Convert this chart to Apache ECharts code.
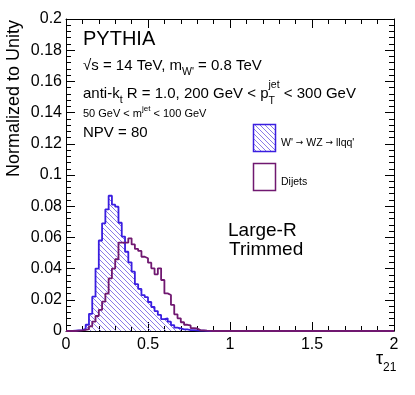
<!DOCTYPE html>
<html>
<head>
<meta charset="utf-8">
</head>
<body style="margin: 0; background: #fff">
<div id="container" style="width: 415px; height: 395px"></div>
<script src="https://cdn.jsdelivr.net/npm/echarts@6/dist/echarts.min.js"></script>
<script>
// histogram bins: width 0.02, first bin starts at 0.04
var binStart = 0.04;
var binWidth = 0.02;
var xTicks = [0, 0.5, 1, 1.5, 2];
var yTicks = [0, 0.02, 0.04, 0.06, 0.08, 0.1, 0.12, 0.14, 0.16, 0.18, 0.2];

// W' -> WZ -> llqq'
var signal = [
    0.0002, 0.0004, 0.0006, 0.0013, 0.0040, 0.0110, 0.0220, 0.0400, 0.0580, 0.0690,
    0.0780, 0.0867, 0.0810, 0.0797, 0.0694, 0.0605, 0.0508, 0.0440, 0.0380, 0.0300,
    0.0270, 0.0230, 0.0217, 0.0186, 0.0154, 0.0128, 0.0103, 0.0076, 0.0081, 0.0060,
    0.0038, 0.0021, 0.0017, 0.0010, 0.0010, 0.0006, 0.0005, 0.0004, 0.0003, 0.0002,
    0.0001, 0, 0
];
// Dijets
var dijets = [
    0, 0.0002, 0.0004, 0.0007, 0.0012, 0.0030, 0.0060, 0.0096, 0.0135, 0.0188,
    0.0240, 0.0337, 0.0400, 0.0460, 0.0566, 0.0566, 0.0566, 0.0594, 0.0555, 0.0526,
    0.0513, 0.0476, 0.0466, 0.0438, 0.0402, 0.0363, 0.0402, 0.0327, 0.0241, 0.0231,
    0.0167, 0.0107, 0.0081, 0.0056, 0.0040, 0.0036, 0.0018, 0.0016, 0.0006, 0.0004,
    0.0002, 0.0001, 0
];

var FONT = '"Liberation Sans", Arial, Helvetica, sans-serif';
var BLUE = '#3a1ee0';
var PURPLE = '#701870';

// hatch pattern for the signal fill
var hatch = document.createElement('canvas');
hatch.width = hatch.height = 5;
var hc = hatch.getContext('2d');
hc.strokeStyle = '#8a7ce8';
hc.lineWidth = 1;
hc.beginPath();
hc.moveTo(-1, -1); hc.lineTo(6, 6);
hc.moveTo(-1, 4); hc.lineTo(1, 6);
hc.moveTo(4, -1); hc.lineTo(6, 1);
hc.stroke();
var hatchFill = { image: hatch, repeat: 'repeat' };

function steps(vals) {
    var pts = [[xTicks[0], 0]];
    vals.forEach(function (v, i) {
        pts.push([binStart + i * binWidth, v]);
    });
    pts.push([binStart + vals.length * binWidth, 0], [xTicks[xTicks.length - 1], 0]);
    return pts;
}

// lay out text pieces (sub/superscripts) one after another
var mctx = document.createElement('canvas').getContext('2d');
function textLine(x, y, parts) {
    var els = [];
    parts.forEach(function (p) {
        var font = p[1] + 'px ' + (p[4] || FONT);
        els.push({
            type: 'text', x: x, y: y + (p[2] || 0),
            style: { text: p[0], font: font, fill: '#000', verticalAlign: 'middle' }
        });
        mctx.font = font;
        if (p[3] !== false) x += mctx.measureText(p[0]).width;
    });
    return els;
}

function axisCommon(extra) {
    var a = {
        type: 'value',
        axisLine: { onZero: false, lineStyle: { color: '#000', width: 1 } },
        axisTick: { inside: true, length: 9, lineStyle: { color: '#000' } },
        minorTick: { show: true, splitNumber: 5, length: 5, lineStyle: { color: '#000' } },
        splitLine: { show: false },
        axisLabel: { show: false }
    };
    return Object.assign(a, extra);
}

var xRange = { min: xTicks[0], max: xTicks[xTicks.length - 1], interval: xTicks[1] - xTicks[0] };
var yRange = { min: yTicks[0], max: yTicks[yTicks.length - 1], interval: yTicks[1] - yTicks[0] };
var labelStyle = { show: true, fontSize: 16, color: '#000', fontFamily: FONT };
var ARROW_FONT = '"DejaVu Sans", sans-serif';

var graphics = [].concat(
    textLine(83, 39.5, [['PYTHIA', 20]]),
    textLine(83, 66, [['√s = 14 TeV, m', 15], ["W'", 10.5, 6], [' = 0.8 TeV', 15]]),
    textLine(83, 94, [['anti-k', 15], ['t', 10.5, 6], [' R = 1.0, 200 GeV < p', 15],
        ['T', 10.5, 7, false], ['jet', 10.5, -9], [' < 300 GeV', 15]]),
    textLine(83, 114, [['50 GeV < m', 11], ['jet', 8, -5], [' < 100 GeV', 11]]),
    textLine(83, 133, [['NPV = 80', 15]]),
    textLine(281, 143, [["W' ", 10.5], ['→', 9, 0, true, ARROW_FONT], [' WZ ', 10.5],
        ['→', 9, 0, true, ARROW_FONT], [" llqq'", 10.5]]),
    textLine(281, 182, [['Dijets', 10.5]]),
    textLine(228, 230.5, [['Large-R', 19]]),
    textLine(229, 250, [['Trimmed', 19]]),
    textLine(376, 359, [['τ', 18], ['21', 12, 8.5]]),
    [
        {
            type: 'rect', shape: { x: 253.5, y: 124.5, width: 22, height: 27 },
            style: { fill: hatchFill, stroke: BLUE, lineWidth: 1.5 }
        },
        {
            type: 'rect', shape: { x: 253.5, y: 163.5, width: 22, height: 27 },
            style: { fill: '#fff', stroke: PURPLE, lineWidth: 1.5 }
        },
        {
            type: 'text', x: 14, y: 20, rotation: Math.PI / 2,
            style: { text: 'Normalized to Unity', font: '18px ' + FONT, fill: '#000', align: 'right', verticalAlign: 'middle' }
        }
    ]
);

var chart = echarts.init(document.getElementById('container'), null, { renderer: 'canvas' });
chart.setOption({
    animation: false,
    backgroundColor: '#fff',
    grid: { left: 66, right: 21, top: 19, bottom: 64, containLabel: false, outerBoundsMode: 'none' },
    xAxis: [
        axisCommon(Object.assign({ position: 'bottom', axisLabel: Object.assign({ margin: 6 }, labelStyle) }, xRange)),
        axisCommon(Object.assign({ position: 'top' }, xRange))
    ],
    yAxis: [
        axisCommon(Object.assign({ position: 'left', axisLabel: Object.assign({ margin: 4 }, labelStyle) }, yRange)),
        axisCommon(Object.assign({ position: 'right' }, yRange))
    ],
    series: [
        {
            name: "W' → WZ → llqq'", type: 'line', step: 'end', symbol: 'none',
            data: steps(signal),
            lineStyle: { color: BLUE, width: 1.8 },
            areaStyle: { color: hatchFill, opacity: 1 }
        },
        {
            name: 'Dijets', type: 'line', step: 'end', symbol: 'none',
            data: steps(dijets),
            lineStyle: { color: PURPLE, width: 1.8 }
        }
    ],
    graphic: graphics
});
</script>
</body>
</html>
